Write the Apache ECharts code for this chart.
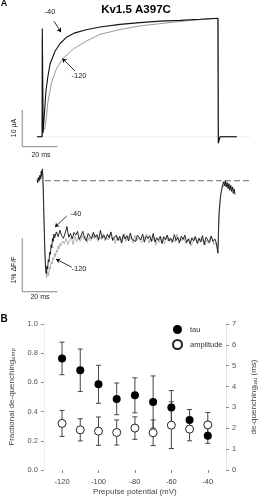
<!DOCTYPE html>
<html>
<head>
<meta charset="utf-8">
<script src="https://cdn.jsdelivr.net/npm/echarts@6.0.0/dist/echarts.min.js"></script>
<style>
  html, body { margin: 0; padding: 0; background: #fff; }
  #chart { width: 266px; height: 499px; }
</style>
</head>
<body>
<div id="chart"></div>
<script>
// panel A, current traces: [time (ms), current (uA)]
const currentNeg40 = [[-3, 0], [-0.1, 0], [0, 29.5], [0.4, 1.0], [1.0, 5.0], [2.1, 12.7], [3.2, 16.5], [4.4, 19.8],
  [7.2, 23.3], [10.1, 25.4], [14.0, 27.2], [18.6, 28.3], [24.3, 29.1], [32.8, 29.9], [44.1, 30.6], [55.5, 31.1],
  [66.9, 31.5], [78.2, 31.7], [89.6, 32.0], [99.8, 32.3], [100, -1.8], [101, 0], [110.5, 0]]
const currentNeg120 = [[-3, 0], [-0.1, 0], [0.05, 27], [0.5, 1.5], [1.5, 2.4], [2.2, 4.8], [3.2, 9.5], [5.3, 14.9],
  [8.2, 18.7], [11.9, 21.4], [17.6, 23.9], [25.2, 26.1], [32.8, 27.9], [44.1, 29.2], [55.5, 30.2], [66.9, 30.8],
  [78.2, 31.4], [89.6, 31.9], [99.8, 32.2], [100, -1.5], [101, 0], [110.5, 0]]
const currentBaseline = [[-1.3, 0], [118, 0]]
const currentScaleBar = [[-11.4, 7.3], [-11.4, -2.7], [8.6, -2.7]] // 10 uA, 20 ms

// panel A, fluorescence traces: [time (ms), dF/F (%)]
const fluoNeg40 = [[-3.0, 0.02], [-2.6, -0.04], [-2.2, 0.06], [-1.8, 0.0], [-1.4, 0.1], [-1.0, 0.04], [-0.6, 0.18],
  [-0.3, 0.08], [0.0, 0.22], [0.3, 0.1], [0.6, -0.25], [1.0, -0.8], [1.4, -1.3], [1.8, -1.62], [2.2, -1.74],
  [2.6, -1.6], [3.0, -1.66], [3.4, -1.48], [3.8, -1.52], [4.2, -1.34], [4.6, -1.38], [5.0, -1.2], [5.4, -1.26],
  [5.8, -1.08], [6.2, -1.14], [6.6, -1.0], [7.0, -1.07],
  [8, -0.96], [9, -1.05], [10, -0.93], [11, -1.03], [12, -1.08], [13, -0.98], [14, -0.86], [15, -1.06], [16, -0.99],
  [17, -1.09], [18, -0.97], [19, -1.02], [20, -0.95], [21, -1.10], [22, -1.03], [23, -0.95], [24, -1.07], [25, -1.13],
  [26, -0.99], [27, -1.04], [28, -1.09], [29, -0.97], [30, -1.06], [31, -1.01], [32, -1.11], [33, -0.93], [34, -1.08],
  [35, -1.02], [36, -1.10], [37, -1.00], [38, -1.07], [39, -0.96], [40, -1.12], [41, -1.06], [42, -1.02], [43, -1.12],
  [44, -1.04], [45, -1.17], [46, -1.01], [47, -1.09], [48, -1.03], [49, -1.13], [50, -0.98], [51, -1.10], [52, -1.07],
  [53, -1.14], [54, -1.02], [55, -1.05], [56, -1.11], [57, -1.00], [58, -1.15], [59, -1.04], [60, -1.08], [61, -1.03],
  [62, -1.14], [63, -0.99], [64, -1.15], [65, -1.07], [66, -1.12], [67, -1.04], [68, -1.18], [69, -1.05], [70, -1.11],
  [71, -1.02], [72, -1.13], [73, -1.08], [74, -1.15], [75, -1.01], [76, -1.12], [77, -1.06], [78, -1.16], [79, -1.04],
  [80, -1.10], [81, -1.02], [82, -1.16], [83, -1.09], [84, -1.19], [85, -1.07], [86, -1.13], [87, -1.05], [88, -1.17],
  [89, -1.08], [90, -1.15], [91, -1.03], [92, -1.20], [93, -1.06], [94, -1.11], [95, -1.16], [96, -1.04], [97, -1.14],
  [98, -1.09], [99, -1.18], [99.5, -1.3], [99.8, -1.36], [100.1, -0.9], [100.4, -0.6], [100.8, -0.45], [101.2, -0.3],
  [101.6, -0.22], [102.0, -0.15], [102.5, -0.07], [103.0, -0.02], [103.5, -0.1], [104.0, 0.0], [104.5, -0.12],
  [105.0, -0.04], [105.5, -0.15], [106.0, -0.06], [106.5, -0.18], [107.0, -0.09], [107.5, -0.2], [108.0, -0.12],
  [108.5, -0.24], [109.0, -0.16], [109.5, -0.26]]
const fluoNeg120 = [[-3.0, 0.0], [-2.5, 0.05], [-2.0, -0.02], [-1.5, 0.08], [-1.0, 0.02], [-0.5, 0.12], [0.0, 0.1],
  [0.4, -0.1], [0.8, -0.55], [1.2, -1.0], [1.6, -1.4], [2.0, -1.68], [2.5, -1.82], [3.0, -1.7], [3.5, -1.78],
  [4.0, -1.62], [4.5, -1.66], [5.0, -1.52], [5.5, -1.56], [6.0, -1.44], [6.5, -1.48], [7.0, -1.36], [7.5, -1.42],
  [8.0, -1.3], [8.5, -1.34], [9.0, -1.22], [9.5, -1.28], [10.0, -1.18],
  [10.5, -1.22], [11.5, -1.13], [12.5, -1.18], [13.5, -1.08], [14.5, -1.20], [15.5, -1.11], [16.5, -1.06], [17.5, -1.20],
  [18.5, -1.03], [19.5, -1.15], [20.5, -1.05], [21.5, -1.14], [22.5, -1.02], [23.5, -1.10], [24.5, -1.04], [25.5, -1.16],
  [26.5, -1.06], [27.5, -1.13], [28.5, -0.99], [29.5, -1.09], [30.5, -1.02], [31.5, -1.14], [32.5, -1.04], [33.5, -1.10],
  [34.5, -0.99], [35.5, -1.13], [36.5, -1.06], [37.5, -1.11], [38.5, -1.00], [39.5, -1.09], [40.5, -1.05], [41.5, -1.18],
  [42.5, -1.04], [43.5, -1.12], [44.5, -1.07], [45.5, -1.15], [46.5, -0.99], [47.5, -1.14], [48.5, -1.03], [49.5, -1.10],
  [50.5, -1.06], [51.5, -1.17], [52.5, -1.02], [53.5, -1.13], [54.5, -1.07], [55.5, -1.04], [56.5, -1.16], [57.5, -1.09],
  [58.5, -1.12], [59.5, -1.00], [60.5, -1.17], [61.5, -1.07], [62.5, -1.13], [63.5, -1.05], [64.5, -1.21], [65.5, -1.08],
  [66.5, -1.16], [67.5, -1.06], [68.5, -1.10], [69.5, -1.19], [70.5, -1.03], [71.5, -1.14], [72.5, -1.07], [73.5, -1.17],
  [74.5, -1.09], [75.5, -1.15], [76.5, -1.00], [77.5, -1.18], [78.5, -1.08], [79.5, -1.13], [80.5, -1.06], [81.5, -1.18],
  [82.5, -1.13], [83.5, -1.08], [84.5, -1.22], [85.5, -1.16], [86.5, -1.04], [87.5, -1.12], [88.5, -1.19], [89.5, -1.07],
  [90.5, -1.14], [91.5, -1.09], [92.5, -1.21], [93.5, -1.11], [94.5, -1.18], [95.5, -1.03], [96.5, -1.10], [97.5, -1.20],
  [98.5, -1.15], [99.5, -1.28], [99.9, -1.22], [100.3, -0.85], [100.7, -0.55], [101.1, -0.38], [101.5, -0.26],
  [102.0, -0.18], [102.5, -0.08], [103.0, -0.12], [103.5, -0.02], [104.0, -0.1], [104.5, 0.01], [105.0, -0.08],
  [105.5, -0.03], [106.0, -0.13], [106.5, -0.06], [107.0, -0.16], [107.5, -0.09], [108.0, -0.18], [108.5, -0.12],
  [109.0, -0.2]]
const fluoBaseline = [[1.5, 0], [118, 0]]
const fluoScaleBar = [[-11.4, -1.08], [-11.4, -2.08], [8.6, -2.08]] // 1 % dF/F, 20 ms

// panel B
const prepulse = [-120, -110, -100, -90, -80, -70, -60, -50, -40]
const tauMean = [5.35, 4.78, 4.11, 3.41, 3.58, 3.26, 3.0, 2.4, 1.64]
const tauErr = [0.78, 1.02, 0.91, 0.76, 0.84, 1.25, 0.81, 0.5, 0.36]
const ampMean = [0.319, 0.275, 0.266, 0.257, 0.287, 0.255, 0.307, 0.28, 0.309]
const ampErr = [0.089, 0.076, 0.097, 0.086, 0.077, 0.088, 0.16, 0.08, 0.085]
const prepulseTicks = [-120, -100, -80, -60, -40]

const font = 'Liberation Sans, Arial, sans-serif'
const chart = echarts.init(document.getElementById('chart'), null, { renderer: 'canvas' })

function errorBars (means, errs) {
  return prepulse.map((x, i) => [x, means[i] - errs[i], means[i] + errs[i]])
}

function renderErrorBar (params, api) {
  const lo = api.coord([api.value(0), api.value(1)])
  const hi = api.coord([api.value(0), api.value(2)])
  const w = 2.5
  const style = { stroke: '#444', lineWidth: 1 }
  return {
    type: 'group',
    children: [
      { type: 'line', shape: { x1: hi[0], y1: hi[1], x2: lo[0], y2: lo[1] }, style },
      { type: 'line', shape: { x1: hi[0] - w, y1: hi[1], x2: hi[0] + w, y2: hi[1] }, style },
      { type: 'line', shape: { x1: lo[0] - w, y1: lo[1], x2: lo[0] + w, y2: lo[1] }, style }
    ]
  }
}

function arrow (from, to) {
  return {
    silent: true,
    symbol: ['none', 'arrow'],
    symbolSize: 4,
    label: { show: false },
    lineStyle: { color: '#000', width: 0.8, type: 'solid' },
    data: [[{ coord: from }, { coord: to }]]
  }
}

function text (x, y, str, extra) {
  return {
    type: 'text',
    x,
    y,
    style: Object.assign({ text: str, font: '7.5px ' + font, fill: '#222', align: 'center', verticalAlign: 'middle' }, extra)
  }
}

const hiddenAxis = { show: false }
const axisNameRich = {
  n: { fontSize: 8, color: '#444' },
  s: { fontSize: 6, color: '#444', verticalAlign: 'bottom', padding: [3, 0, 0, 0] }
}

const option = {
  animation: false,
  textStyle: { fontFamily: font },
  grid: [
    { left: 21.2, width: 228.8, top: 4.6, height: 146.8 },
    { left: 21.2, width: 228.8, top: 159.3, height: 141.5 },
    { left: 34, right: 28.3, top: 324, height: 146 }
  ],
  xAxis: [
    Object.assign({ type: 'value', gridIndex: 0, min: -12, max: 118 }, hiddenAxis),
    Object.assign({ type: 'value', gridIndex: 1, min: -12, max: 118 }, hiddenAxis),
    {
      type: 'value',
      gridIndex: 2,
      min: -130,
      max: -30,
      offset: 2,
      axisLine: { show: false },
      splitLine: { show: false },
      axisTick: { show: true, length: 3, lineStyle: { color: '#888' }, customValues: prepulseTicks },
      axisLabel: { fontSize: 7.5, color: '#444', margin: 6, customValues: prepulseTicks },
      name: 'Prepulse potential (mV)',
      nameLocation: 'middle',
      nameGap: 16,
      nameTextStyle: { fontSize: 8, color: '#444' }
    }
  ],
  yAxis: [
    Object.assign({ type: 'value', gridIndex: 0, min: -4, max: 36 }, hiddenAxis),
    Object.assign({ type: 'value', gridIndex: 1, min: -2.25, max: 0.4 }, hiddenAxis),
    {
      type: 'value',
      gridIndex: 2,
      min: 0,
      max: 1,
      interval: 0.2,
      axisLine: { show: true, lineStyle: { color: '#eee' } },
      axisTick: { show: true, length: 3, lineStyle: { color: '#888' } },
      splitLine: { show: false },
      axisLabel: { fontSize: 7.5, color: '#555', margin: 6, formatter: v => v.toFixed(1) },
      name: '{n|Fractional de-quenching}{s|amp}',
      nameLocation: 'middle',
      nameRotate: 90,
      nameGap: 27,
      nameTextStyle: { color: '#444', rich: axisNameRich }
    },
    {
      type: 'value',
      gridIndex: 2,
      position: 'right',
      min: 0,
      max: 7,
      interval: 1,
      axisLine: { show: true, lineStyle: { color: '#e6e6e6' } },
      axisTick: { show: true, length: 3, lineStyle: { color: '#888' } },
      splitLine: { show: false },
      axisLabel: { fontSize: 7.5, color: '#555', margin: 6 },
      name: '{n|de-quenching}{s|tau}{n| (ms)}',
      nameLocation: 'middle',
      nameRotate: 90,
      nameGap: 23,
      nameTextStyle: { color: '#444', rich: axisNameRich }
    }
  ],
  legend: {
    orient: 'vertical',
    left: 172,
    top: 325,
    padding: 0,
    itemWidth: 9,
    itemHeight: 9,
    itemGap: 5,
    textStyle: { fontSize: 7.5, color: '#333', padding: [0, 0, 0, 3] },
    data: [{ name: 'tau', icon: 'circle' }, { name: 'amplitude', icon: 'circle' }]
  },
  series: [
    // current
    { type: 'line', xAxisIndex: 0, yAxisIndex: 0, data: currentBaseline, showSymbol: false, silent: true,
      lineStyle: { color: '#ddd', width: 1, type: 'dotted' } },
    { type: 'line', xAxisIndex: 0, yAxisIndex: 0, data: currentScaleBar, showSymbol: false, silent: true,
      lineStyle: { color: '#888', width: 1 } },
    { type: 'line', xAxisIndex: 0, yAxisIndex: 0, data: currentNeg120, showSymbol: false, silent: true,
      lineStyle: { color: '#999', width: 1 },
      markLine: arrow([18.6, 17.9], [11.4, 21.3]) },
    { type: 'line', xAxisIndex: 0, yAxisIndex: 0, data: currentNeg40, showSymbol: false, silent: true,
      lineStyle: { color: '#111', width: 1.1 },
      markLine: arrow([6.6, 31.5], [10.6, 28.5]) },
    // fluorescence
    { type: 'line', xAxisIndex: 1, yAxisIndex: 1, data: fluoBaseline, showSymbol: false, silent: true,
      lineStyle: { color: '#888', width: 1.3, type: [6, 3] } },
    { type: 'line', xAxisIndex: 1, yAxisIndex: 1, data: fluoScaleBar, showSymbol: false, silent: true,
      lineStyle: { color: '#888', width: 1 } },
    { type: 'line', xAxisIndex: 1, yAxisIndex: 1, data: fluoNeg120, showSymbol: false, silent: true,
      lineStyle: { color: '#aaa', width: 0.9 },
      markLine: arrow([16.7, -1.62], [7.8, -1.47]) },
    { type: 'line', xAxisIndex: 1, yAxisIndex: 1, data: fluoNeg40, showSymbol: false, silent: true,
      lineStyle: { color: '#111', width: 0.9 },
      markLine: arrow([13.9, -0.66], [7.2, -0.87]) },
    // panel B
    { type: 'custom', xAxisIndex: 2, yAxisIndex: 3, data: errorBars(tauMean, tauErr), renderItem: renderErrorBar,
      encode: { x: 0, y: [1, 2] }, silent: true },
    { type: 'custom', xAxisIndex: 2, yAxisIndex: 2, data: errorBars(ampMean, ampErr), renderItem: renderErrorBar,
      encode: { x: 0, y: [1, 2] }, silent: true },
    { name: 'amplitude', type: 'scatter', xAxisIndex: 2, yAxisIndex: 2, symbol: 'circle', symbolSize: 8,
      data: prepulse.map((x, i) => [x, ampMean[i]]),
      itemStyle: { color: '#fff', borderColor: '#222', borderWidth: 1, opacity: 1 } },
    { name: 'tau', type: 'scatter', xAxisIndex: 2, yAxisIndex: 3, symbol: 'circle', symbolSize: 8,
      data: prepulse.map((x, i) => [x, tauMean[i]]),
      itemStyle: { color: '#000', opacity: 1 } }
  ],
  graphic: [
    text(4, 4, 'A', { font: 'bold 9px ' + font, fill: '#000' }),
    text(136, 10, 'Kv1.5 A397C', { font: 'bold 11.5px ' + font, fill: '#000' }),
    text(50, 12, '-40'),
    text(79, 76, '-120'),
    text(14, 128, '10 µA', { font: '7px ' + font }),
    text(41, 155, '20 ms', { font: '7px ' + font }),
    text(76, 214, '-40'),
    text(79, 269, '-120'),
    text(14, 270, '1% ΔF/F', { font: '7px ' + font }),
    text(40, 297.5, '20 ms', { font: '7px ' + font }),
    text(4, 319, 'B', { font: 'bold 10px ' + font, fill: '#000' })
  ]
}

// rotated scale-bar labels
option.graphic[4].rotation = Math.PI / 2
option.graphic[8].rotation = Math.PI / 2

chart.setOption(option)
</script>
</body>
</html>
